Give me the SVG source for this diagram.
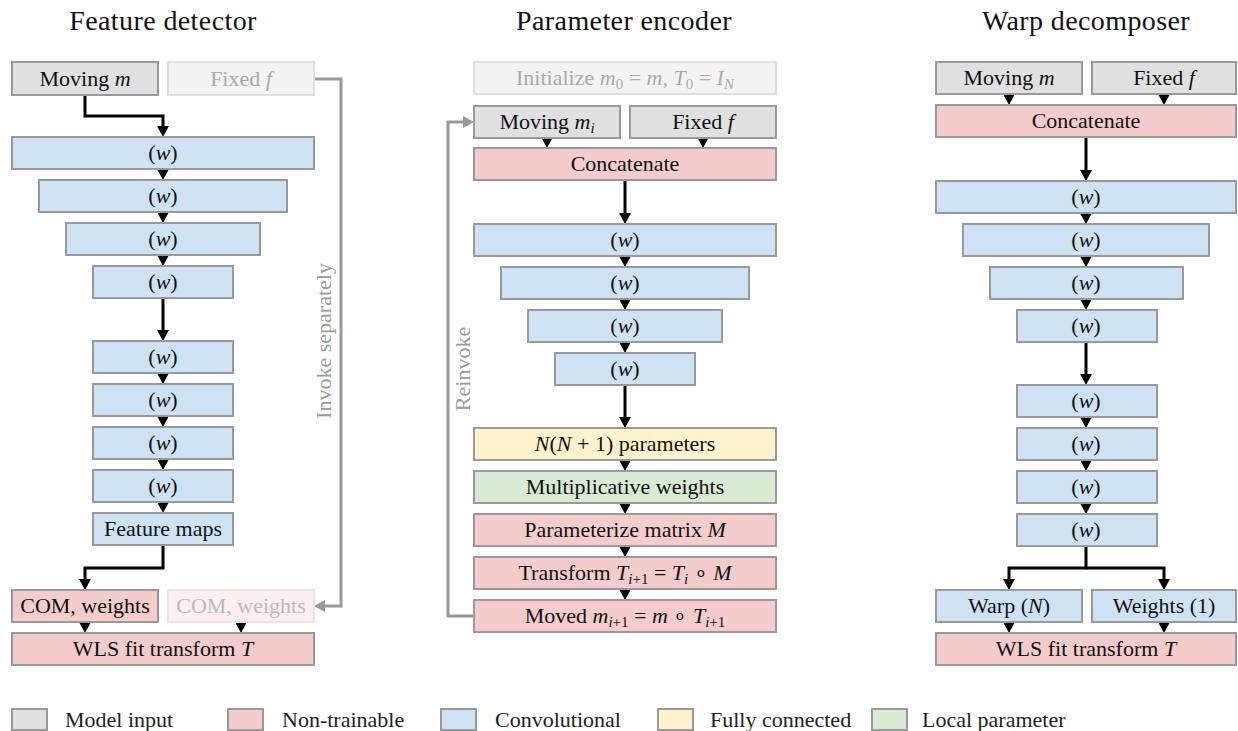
<svg xmlns="http://www.w3.org/2000/svg" width="1238" height="731" viewBox="0 0 1238 731">
<defs>
<style>
.b{stroke:#999;stroke-width:2}
.g{fill:#e0e0e0}
.p{fill:#f4cccc}
.c{fill:#cfe2f3}
.y{fill:#fff2cc}
.n{fill:#d9ead3}
.fg{fill:#f3f3f3;stroke:#dedede;stroke-width:2}
.fp{fill:#fcefef;stroke:#eee2e2;stroke-width:2}
text{font-family:"Liberation Serif","Times New Roman",serif}
.l{font-size:22px;text-anchor:middle;fill:#111}
.t{font-size:28px;text-anchor:middle;fill:#111;letter-spacing:0.4px}
.ft{fill:#aaa}
.it{font-style:italic}
.s{font-size:15px}
.k{stroke:#000;stroke-width:3;fill:none}
.q{stroke:#999;stroke-width:3;fill:none}
.rt{font-size:22px;text-anchor:middle;fill:#999}
.lg{font-size:22px;fill:#222}
</style>
<marker id="ab" markerUnits="userSpaceOnUse" markerWidth="11" markerHeight="12" viewBox="0 0 11 12" refX="3" refY="6" orient="auto"><path d="M0,0 L11,6 L0,12 z" fill="#000"/></marker>
<marker id="ag" markerUnits="userSpaceOnUse" markerWidth="11" markerHeight="12" viewBox="0 0 11 12" refX="3" refY="6" orient="auto"><path d="M0,0 L11,6 L0,12 z" fill="#999"/></marker>
</defs>
<rect width="1238" height="731" fill="#fff"/>

<text class="t" x="163" y="30">Feature detector</text>
<text class="t" x="624" y="30">Parameter encoder</text>
<text class="t" x="1086" y="30">Warp decomposer</text>

<g id="connectors">
<!-- left -->
<path class="k" d="M85,95 V116 H163 V129" marker-end="url(#ab)"/>
<path class="k" d="M163,169 V172" marker-end="url(#ab)"/>
<path class="k" d="M163,212 V215" marker-end="url(#ab)"/>
<path class="k" d="M163,255 V258" marker-end="url(#ab)"/>
<path class="k" d="M163,298 V333" marker-end="url(#ab)"/>
<path class="k" d="M163,373 V376" marker-end="url(#ab)"/>
<path class="k" d="M163,416 V419" marker-end="url(#ab)"/>
<path class="k" d="M163,459 V462" marker-end="url(#ab)"/>
<path class="k" d="M163,502 V505" marker-end="url(#ab)"/>
<path class="k" d="M163,545 V568 H85 V582" marker-end="url(#ab)"/>
<path class="k" d="M85,622 V625" marker-end="url(#ab)"/>
<path class="k" d="M241,622 V625" marker-end="url(#ab)"/>
<path class="q" d="M314,79 H341 V606 H322" marker-end="url(#ag)"/>
<!-- middle -->
<path class="k" d="M547,138 V140" marker-end="url(#ab)"/>
<path class="k" d="M703,138 V140" marker-end="url(#ab)"/>
<path class="k" d="M625,180 V216" marker-end="url(#ab)"/>
<path class="k" d="M625,256 V259" marker-end="url(#ab)"/>
<path class="k" d="M625,299 V302" marker-end="url(#ab)"/>
<path class="k" d="M625,342 V345" marker-end="url(#ab)"/>
<path class="k" d="M625,385 V420" marker-end="url(#ab)"/>
<path class="k" d="M625,460 V463" marker-end="url(#ab)"/>
<path class="k" d="M625,503 V506" marker-end="url(#ab)"/>
<path class="k" d="M625,546 V549" marker-end="url(#ab)"/>
<path class="k" d="M625,589 V592" marker-end="url(#ab)"/>
<path class="q" d="M474,616 H448 V122 H466" marker-end="url(#ag)"/>
<!-- right -->
<path class="k" d="M1009,94 V97" marker-end="url(#ab)"/>
<path class="k" d="M1164,94 V97" marker-end="url(#ab)"/>
<path class="k" d="M1086,137 V173" marker-end="url(#ab)"/>
<path class="k" d="M1086,213 V216" marker-end="url(#ab)"/>
<path class="k" d="M1086,256 V259" marker-end="url(#ab)"/>
<path class="k" d="M1086,299 V302" marker-end="url(#ab)"/>
<path class="k" d="M1086,342 V377" marker-end="url(#ab)"/>
<path class="k" d="M1086,417 V420" marker-end="url(#ab)"/>
<path class="k" d="M1086,460 V463" marker-end="url(#ab)"/>
<path class="k" d="M1086,503 V506" marker-end="url(#ab)"/>
<path class="k" d="M1086,546 V568 H1009 V582" marker-end="url(#ab)"/>
<path class="k" d="M1086,568 H1164 V582" marker-end="url(#ab)"/>
<path class="k" d="M1009,622 V625" marker-end="url(#ab)"/>
<path class="k" d="M1164,622 V625" marker-end="url(#ab)"/>
</g>

<text class="rt" transform="translate(331,341) rotate(-90)">Invoke separately</text>
<text class="rt" transform="translate(470,369) rotate(-90)">Reinvoke</text>

<!-- Left column -->
<g id="fd-moving"><rect class="b g" x="12" y="62" width="146" height="33"/><text class="l" x="85" y="86">Moving <tspan class="it">m</tspan></text></g>
<g id="fd-fixed"><rect class="fg" x="168" y="62" width="146" height="33"/><text class="l ft" x="241" y="86">Fixed <tspan class="it">f</tspan></text></g>
<g id="fd-c1"><rect class="b c" x="12" y="137" width="302" height="32"/><text class="l" x="163" y="160">(<tspan class="it">w</tspan>)</text></g>
<g id="fd-c2"><rect class="b c" x="39" y="180" width="248" height="32"/><text class="l" x="163" y="203">(<tspan class="it">w</tspan>)</text></g>
<g id="fd-c3"><rect class="b c" x="66" y="223" width="194" height="32"/><text class="l" x="163" y="246">(<tspan class="it">w</tspan>)</text></g>
<g id="fd-c4"><rect class="b c" x="93" y="266" width="140" height="32"/><text class="l" x="163" y="289">(<tspan class="it">w</tspan>)</text></g>
<g id="fd-c5"><rect class="b c" x="93" y="341" width="140" height="32"/><text class="l" x="163" y="364">(<tspan class="it">w</tspan>)</text></g>
<g id="fd-c6"><rect class="b c" x="93" y="384" width="140" height="32"/><text class="l" x="163" y="407">(<tspan class="it">w</tspan>)</text></g>
<g id="fd-c7"><rect class="b c" x="93" y="427" width="140" height="32"/><text class="l" x="163" y="450">(<tspan class="it">w</tspan>)</text></g>
<g id="fd-c8"><rect class="b c" x="93" y="470" width="140" height="32"/><text class="l" x="163" y="493">(<tspan class="it">w</tspan>)</text></g>
<g id="fd-maps"><rect class="b c" x="93" y="513" width="140" height="32"/><text class="l" x="163" y="536">Feature maps</text></g>
<g id="fd-com"><rect class="b p" x="12" y="590" width="146" height="32"/><text class="l" x="85" y="613">COM, weights</text></g>
<g id="fd-com2"><rect class="fp" x="168" y="590" width="146" height="32"/><text class="l" x="241" y="613" style="fill:#bbb">COM, weights</text></g>
<g id="fd-wls"><rect class="b p" x="12" y="633" width="302" height="32"/><text class="l" x="163" y="656">WLS fit transform <tspan class="it">T</tspan></text></g>

<!-- Middle column -->
<g id="pe-init"><rect class="fg" x="474" y="62" width="302" height="32"/><text class="l ft" x="625" y="85">Initialize <tspan class="it">m</tspan><tspan class="s" dy="4">0</tspan><tspan dy="-4"> = </tspan><tspan class="it">m</tspan>, <tspan class="it">T</tspan><tspan class="s" dy="4">0</tspan><tspan dy="-4"> = </tspan><tspan class="it">I</tspan><tspan class="s it" dy="4">N</tspan></text></g>
<g id="pe-moving"><rect class="b g" x="474" y="106" width="146" height="32"/><text class="l" x="547" y="129">Moving <tspan class="it">m</tspan><tspan class="s it" dy="4">i</tspan></text></g>
<g id="pe-fixed"><rect class="b g" x="630" y="106" width="146" height="32"/><text class="l" x="703" y="129">Fixed <tspan class="it">f</tspan></text></g>
<g id="pe-concat"><rect class="b p" x="474" y="148" width="302" height="32"/><text class="l" x="625" y="171">Concatenate</text></g>
<g id="pe-c1"><rect class="b c" x="474" y="224" width="302" height="32"/><text class="l" x="625" y="247">(<tspan class="it">w</tspan>)</text></g>
<g id="pe-c2"><rect class="b c" x="501" y="267" width="248" height="32"/><text class="l" x="625" y="290">(<tspan class="it">w</tspan>)</text></g>
<g id="pe-c3"><rect class="b c" x="528" y="310" width="194" height="32"/><text class="l" x="625" y="333">(<tspan class="it">w</tspan>)</text></g>
<g id="pe-c4"><rect class="b c" x="555" y="353" width="140" height="32"/><text class="l" x="625" y="376">(<tspan class="it">w</tspan>)</text></g>
<g id="pe-params"><rect class="b y" x="474" y="428" width="302" height="32"/><text class="l" x="625" y="451"><tspan class="it">N</tspan>(<tspan class="it">N</tspan> + 1) parameters</text></g>
<g id="pe-mult"><rect class="b n" x="474" y="471" width="302" height="32"/><text class="l" x="625" y="494">Multiplicative weights</text></g>
<g id="pe-matrix"><rect class="b p" x="474" y="514" width="302" height="32"/><text class="l" x="625" y="537">Parameterize matrix <tspan class="it">M</tspan></text></g>
<g id="pe-transform"><rect class="b p" x="474" y="557" width="302" height="32"/><text class="l" x="625" y="580">Transform <tspan class="it">T</tspan><tspan class="s" dy="4"><tspan class="it">i</tspan>+1</tspan><tspan dy="-4"> = </tspan><tspan class="it">T</tspan><tspan class="s it" dy="4">i</tspan><tspan dy="-4"> ∘ </tspan><tspan class="it">M</tspan></text></g>
<g id="pe-moved"><rect class="b p" x="474" y="600" width="302" height="32"/><text class="l" x="625" y="623">Moved <tspan class="it">m</tspan><tspan class="s" dy="4"><tspan class="it">i</tspan>+1</tspan><tspan dy="-4"> = </tspan><tspan class="it">m</tspan> ∘ <tspan class="it">T</tspan><tspan class="s" dy="4"><tspan class="it">i</tspan>+1</tspan></text></g>

<!-- Right column -->
<g id="wd-moving"><rect class="b g" x="936" y="62" width="146" height="32"/><text class="l" x="1009" y="85">Moving <tspan class="it">m</tspan></text></g>
<g id="wd-fixed"><rect class="b g" x="1092" y="62" width="144" height="32"/><text class="l" x="1164" y="85">Fixed <tspan class="it">f</tspan></text></g>
<g id="wd-concat"><rect class="b p" x="936" y="105" width="300" height="32"/><text class="l" x="1086" y="128">Concatenate</text></g>
<g id="wd-c1"><rect class="b c" x="936" y="181" width="300" height="32"/><text class="l" x="1086" y="204">(<tspan class="it">w</tspan>)</text></g>
<g id="wd-c2"><rect class="b c" x="963" y="224" width="246" height="32"/><text class="l" x="1086" y="247">(<tspan class="it">w</tspan>)</text></g>
<g id="wd-c3"><rect class="b c" x="990" y="267" width="193" height="32"/><text class="l" x="1086" y="290">(<tspan class="it">w</tspan>)</text></g>
<g id="wd-c4"><rect class="b c" x="1017" y="310" width="140" height="32"/><text class="l" x="1086" y="333">(<tspan class="it">w</tspan>)</text></g>
<g id="wd-c5"><rect class="b c" x="1017" y="385" width="140" height="32"/><text class="l" x="1086" y="408">(<tspan class="it">w</tspan>)</text></g>
<g id="wd-c6"><rect class="b c" x="1017" y="428" width="140" height="32"/><text class="l" x="1086" y="451">(<tspan class="it">w</tspan>)</text></g>
<g id="wd-c7"><rect class="b c" x="1017" y="471" width="140" height="32"/><text class="l" x="1086" y="494">(<tspan class="it">w</tspan>)</text></g>
<g id="wd-c8"><rect class="b c" x="1017" y="514" width="140" height="32"/><text class="l" x="1086" y="537">(<tspan class="it">w</tspan>)</text></g>
<g id="wd-warp"><rect class="b c" x="936" y="590" width="146" height="32"/><text class="l" x="1009" y="613">Warp (<tspan class="it">N</tspan>)</text></g>
<g id="wd-weights"><rect class="b c" x="1092" y="590" width="144" height="32"/><text class="l" x="1164" y="613">Weights (1)</text></g>
<g id="wd-wls"><rect class="b p" x="936" y="633" width="300" height="32"/><text class="l" x="1086" y="656">WLS fit transform <tspan class="it">T</tspan></text></g>

<!-- Legend -->
<g id="legend">
<rect class="b g" x="12" y="709" width="35" height="21"/><text class="lg" x="65" y="727">Model input</text>
<rect class="b p" x="228" y="709" width="35" height="21"/><text class="lg" x="282" y="727">Non-trainable</text>
<rect class="b c" x="441" y="709" width="35" height="21"/><text class="lg" x="495" y="727">Convolutional</text>
<rect class="b y" x="658" y="709" width="35" height="21"/><text class="lg" x="710" y="727">Fully connected</text>
<rect class="b n" x="872" y="709" width="35" height="21"/><text class="lg" x="922" y="727">Local parameter</text>
</g>
</svg>
